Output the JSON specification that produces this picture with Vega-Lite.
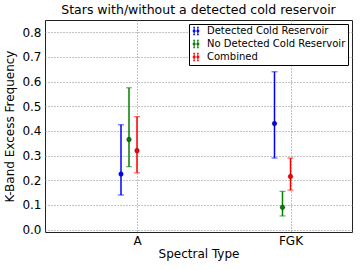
{
  "$schema": "https://vega.github.io/schema/vega-lite/v6.json",
  "width": 307,
  "height": 212,
  "autosize": {"type": "none"},
  "padding": {"left": 45, "top": 20, "right": 8, "bottom": 38},
  "title": {"text": "Stars with/without a detected cold reservoir", "fontSize": 12.5, "fontWeight": "normal", "font": "DejaVu Sans", "anchor": "middle", "frame": "group", "offset": 4, "color": "#000"},
  "config": {
    "view": {"stroke": "#222", "strokeWidth": 1},
    "font": "DejaVu Sans",
    "axis": {"labelFont": "DejaVu Sans", "titleFont": "DejaVu Sans", "labelColor": "#000", "titleColor": "#000", "titleFontWeight": "normal", "labelFontSize": 12, "titleFontSize": 12, "grid": true, "gridColor": "#888", "gridDash": [1, 2], "gridOpacity": 1, "domain": false, "ticks": false, "labelOverlap": false}
  },
  "data": {"values": [
    {"type": "A", "series": "Detected Cold Reservoir", "f": 0.225, "lo": 0.14, "hi": 0.425},
    {"type": "A", "series": "No Detected Cold Reservoir", "f": 0.365, "lo": 0.255, "hi": 0.575},
    {"type": "A", "series": "Combined", "f": 0.32, "lo": 0.23, "hi": 0.458},
    {"type": "FGK", "series": "Detected Cold Reservoir", "f": 0.43, "lo": 0.29, "hi": 0.64},
    {"type": "FGK", "series": "No Detected Cold Reservoir", "f": 0.09, "lo": 0.055, "hi": 0.155},
    {"type": "FGK", "series": "Combined", "f": 0.215, "lo": 0.16, "hi": 0.29}
  ]},
  "encoding": {
    "x": {"field": "type", "type": "nominal", "scale": {"type": "band", "domain": ["A", "FGK"], "paddingInner": 0, "paddingOuter": 0},
      "axis": {"title": "Spectral Type", "labelAngle": 0, "tickOffset": 15.25, "labelPadding": 3, "titlePadding": 2, "bandPosition": 0.5}},
    "xOffset": {"field": "series", "type": "nominal", "scale": {"type": "point", "domain": ["Detected Cold Reservoir", "No Detected Cold Reservoir", "Combined"], "range": [76, 92], "padding": 0}},
    "y": {"field": "f", "type": "quantitative", "scale": {"domain": [-0.01, 0.85], "nice": false, "zero": false},
      "axis": {"title": "K-Band Excess Frequency", "values": [0, 0.1, 0.2, 0.3, 0.4, 0.5, 0.6, 0.7, 0.8], "format": ".1f", "labelPadding": 4, "titlePadding": 5, "labelOverlap": false}},
    "color": {"field": "series", "type": "nominal", "scale": {"domain": ["Detected Cold Reservoir", "No Detected Cold Reservoir", "Combined"], "range": ["#0000ff", "#008000", "#ff0000"]},
      "legend": {"title": null, "orient": "top-right", "offset": 4, "labelFontSize": 10, "labelFont": "DejaVu Sans", "labelColor": "#000", "strokeColor": "#000", "fillColor": "#fff", "padding": 2, "rowPadding": 1, "labelOffset": 6, "symbolSize": 56, "symbolStrokeWidth": 1, "symbolOpacity": 1,
        "symbolType": "M-0.75,-1H-0.25M-0.5,-1V1M-0.75,1H-0.25M-0.5,-0.3A0.3,0.3,0,1,1,-0.5,0.3A0.3,0.3,0,1,1,-0.5,-0.3M0.25,-1H0.75M0.5,-1V1M0.25,1H0.75M0.5,-0.3A0.3,0.3,0,1,1,0.5,0.3A0.3,0.3,0,1,1,0.5,-0.3"}}
  },
  "layer": [
    {"mark": {"type": "rule", "strokeWidth": 1.5},
     "encoding": {"y": {"field": "lo", "type": "quantitative", "scale": {"domain": [-0.01, 0.85], "nice": false, "zero": false},
        "axis": {"title": "K-Band Excess Frequency", "values": [0, 0.1, 0.2, 0.3, 0.4, 0.5, 0.6, 0.7, 0.8], "format": ".1f", "labelPadding": 4, "titlePadding": 5, "labelOverlap": false}},
      "y2": {"field": "hi"}}},
    {"mark": {"type": "point", "shape": "stroke", "size": 36, "strokeWidth": 1.2, "opacity": 0.6},
     "encoding": {"y": {"field": "lo", "type": "quantitative", "scale": {"domain": [-0.01, 0.85], "nice": false, "zero": false},
        "axis": {"title": "K-Band Excess Frequency", "values": [0, 0.1, 0.2, 0.3, 0.4, 0.5, 0.6, 0.7, 0.8], "format": ".1f", "labelPadding": 4, "titlePadding": 5, "labelOverlap": false}}}},
    {"mark": {"type": "point", "shape": "stroke", "size": 36, "strokeWidth": 1.2, "opacity": 0.6},
     "encoding": {"y": {"field": "hi", "type": "quantitative", "scale": {"domain": [-0.01, 0.85], "nice": false, "zero": false},
        "axis": {"title": "K-Band Excess Frequency", "values": [0, 0.1, 0.2, 0.3, 0.4, 0.5, 0.6, 0.7, 0.8], "format": ".1f", "labelPadding": 4, "titlePadding": 5, "labelOverlap": false}}}},
    {"mark": {"type": "point", "shape": "circle", "filled": true, "size": 22, "opacity": 1, "stroke": "#000", "strokeWidth": 0.3}}
  ]
}
